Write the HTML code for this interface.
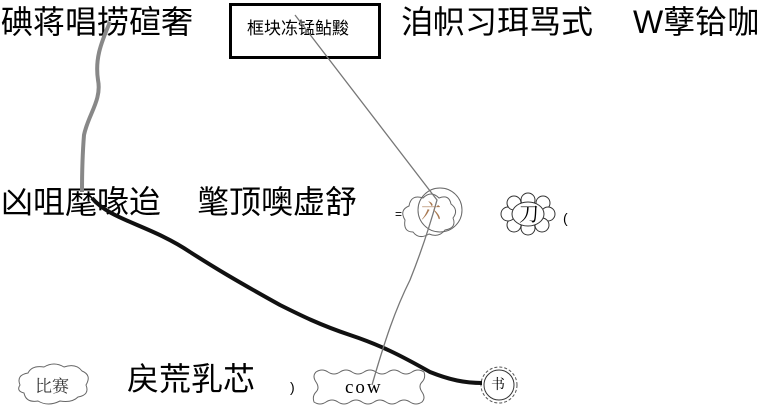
<!DOCTYPE html>
<html><head><meta charset="utf-8"><style>
body{margin:0;width:773px;height:418px;overflow:hidden;background:#fff;position:relative;font-family:"Liberation Sans","Noto Sans CJK SC",sans-serif;}
.t{position:absolute;font-size:32px;line-height:1;color:#000;white-space:nowrap;}
svg{position:absolute;left:0;top:0;}
</style></head><body>
<div class="t" style="left:1px;top:6px;">碘蒋唱捞碹奢</div>
<div class="t" style="left:401px;top:6px;">洎帜习珥骂式</div>
<div class="t" style="left:633px;top:6px;">W孽铪咖</div>
<div class="t" style="left:1px;top:186px;">凶咀麾喙迨</div>
<div class="t" style="left:197px;top:186px;">氅顶噢虚舒</div>
<div class="t" style="left:127px;top:363px;">戻荒乳芯</div>
<div style="position:absolute;left:229px;top:3px;width:146px;height:50px;border:3px solid #000;"></div>
<div class="t" style="left:247px;top:20px;font-size:17px;">框块冻锰鲇黢</div>
<svg width="773" height="418">
<g fill="#fff" stroke="#666" stroke-width="1">
<path d="M405,220 q-6,-10 4,-14 q2,-12 14,-8 q8,-8 16,0 q10,-4 12,6 q8,6 2,14 q4,10 -8,12 q-6,8 -16,4 q-10,6 -16,-2 q-10,0 -8,-12z"/>
<circle cx="440" cy="210" r="22" fill="none"/>
<path d="M20,385 q-4,-10 8,-12 q4,-8 16,-6 q10,-6 20,0 q12,-4 18,4 q10,4 4,14 q4,10 -8,12 q-6,6 -18,4 q-12,6 -22,0 q-12,2 -14,-8 q-8,-2 -4,-8z"/>
<path d="M316,372 q6,-4 12,0 t12,0 t12,0 t12,0 t12,0 t12,0 t12,0 t12,0 t12,0 q2,6 -2,10 t0,10 t0,10 q-6,4 -12,0 t-12,0 t-12,0 t-12,0 t-12,0 t-12,0 t-12,0 t-12,0 t-12,0 q-2,-6 2,-10 t0,-10 t0,-10z"/>
</g>
<g fill="#fff" stroke="#333" stroke-width="1">
<circle cx="528" cy="200" r="7"/><circle cx="543" cy="203" r="7"/><circle cx="548" cy="214" r="7"/><circle cx="542" cy="225" r="7"/><circle cx="528" cy="228" r="7"/><circle cx="514" cy="225" r="7"/><circle cx="508" cy="214" r="7"/><circle cx="514" cy="203" r="7"/>
<ellipse cx="528" cy="214" rx="16" ry="12"/>
<circle cx="499" cy="385" r="18" stroke="#555" stroke-dasharray="3 2"/>
<circle cx="499" cy="385" r="15"/>
</g>
<path d="M110,22 C100,45 95,60 98,80 C102,100 88,115 84,135 C82,160 82,175 82,192" fill="none" stroke="#888" stroke-width="4"/>
<path d="M92,198 C110,220 150,225 190,252 C215,268 235,280 280,305 C300,315 320,325 350,335 C380,345 400,355 430,372 C450,380 465,383 482,383" fill="none" stroke="#111" stroke-width="4"/>
<path d="M295,15 L437,200 C430,225 420,255 410,280 C395,310 385,340 372,385" fill="none" stroke="#777" stroke-width="1.3"/>
<text x="395" y="218" font-size="12" font-family="Liberation Sans">=</text>
<text x="563" y="223" font-size="14" font-family="Liberation Sans">(</text>
<text x="290" y="392" font-size="14" font-family="Liberation Sans">)</text>
</svg>
<div class="t" style="left:421px;top:200px;font-size:20px;color:#a87850;font-family:'Noto Serif CJK SC',serif;">六</div>
<div class="t" style="left:519px;top:203px;font-size:20px;font-family:'Noto Serif CJK SC',serif;">刀</div>
<div class="t" style="left:35px;top:376px;font-size:17px;color:#333;font-family:'Noto Serif CJK SC',serif;">比赛</div>
<div class="t" style="left:345px;top:378px;font-size:19px;letter-spacing:2px;font-family:'Liberation Serif',serif;">cow</div>
<div class="t" style="left:491px;top:377px;font-size:14px;font-family:'Noto Serif CJK SC',serif;">书</div>
</body></html>
